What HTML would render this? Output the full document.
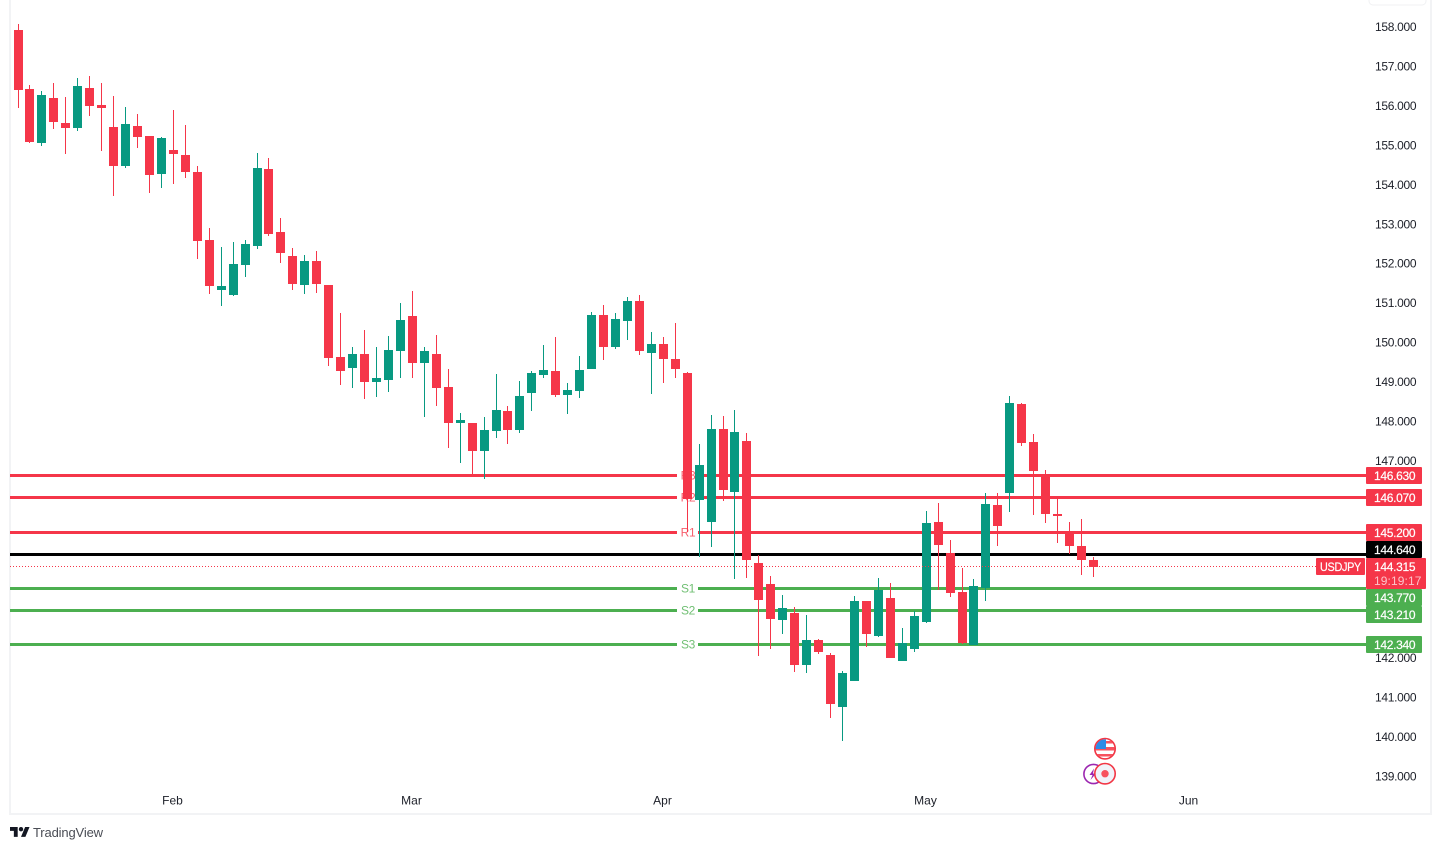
<!DOCTYPE html>
<html lang="en">
<head>
<meta charset="utf-8">
<title>USDJPY daily chart</title>
<style>
html,body{margin:0;padding:0;background:#fff;width:1441px;height:850px;overflow:hidden}
svg{display:block;font-family:"Liberation Sans",Arial,sans-serif}
text{font-size:12px;letter-spacing:-.3px}
</style>
</head>
<body>
<svg id="chart" xmlns="http://www.w3.org/2000/svg" width="1441" height="850" viewBox="0 0 1441 850">
  <rect x="0" y="0" width="1441" height="850" fill="#ffffff"/>
  <g fill="#f2f3f5" shape-rendering="crispEdges">
    <rect x="9" y="0" width="2" height="815"/>
    <rect x="1430" y="0" width="2" height="815"/>
    <rect x="9" y="813" width="1423" height="2"/>
  </g>
  <rect x="1369" y="-10" width="57" height="15" rx="4" fill="#fff" stroke="#f0f1f3"/>
  <g id="price-axis"></g>
  <g id="time-axis"></g>
  <g id="pivot-lines"></g>
  <g id="candles" shape-rendering="crispEdges"></g>
  <g id="pivot-line-labels"></g>
  <g id="last-price-line"></g>
  <g id="price-tags"></g>

  <g>
    <g>
      <circle cx="1093.5" cy="774" r="9.6" fill="#fff" stroke="#9c27b0" stroke-width="1.6"/>
      <path d="M1094 768.500 L1089.500 775 L1092.500 775 L1090.500 780 L1096 773.500 L1093 773.500 Z" fill="#9c27b0"/>
    </g>
    <g>
      <clipPath id="flag-clip"><circle cx="1105" cy="748.700" r="9.500"/></clipPath>
      <g clip-path="url(#flag-clip)">
        <rect x="1095" y="739" width="20" height="20" fill="#ffffff"/>
        <rect x="1095" y="741" width="20" height="2.500" fill="#f7525f"/>
        <rect x="1095" y="747" width="20" height="3.500" fill="#f7525f"/>
        <rect x="1095" y="754" width="20" height="2.500" fill="#f7525f"/>
        <rect x="1095" y="739" width="11" height="10" fill="#2e8be6"/>
      </g>
      <circle cx="1105" cy="748.700" r="10.200" fill="none" stroke="#f23645" stroke-width="1.600"/>
    </g>
    <g>
      <circle cx="1105" cy="773.700" r="10.200" fill="#f0f3fa" stroke="#f23645" stroke-width="1.600"/>
      <circle cx="1105" cy="773.700" r="3.700" fill="#f7525f"/>
    </g>
  </g>

  <g>
    <g transform="translate(10 824.800) scale(0.55)" fill="#131722">
      <path d="M14 22H7V11H0V4h14v18zM28 22h-8l7.500-18h8L28 22z"/>
      <circle cx="20" cy="8" r="4"/>
    </g>
    <text x="33" y="837" fill="#4a4d55" style="font-size:13px;letter-spacing:-.15px">TradingView</text>
  </g>
</svg>

<script>
// Daily OHLC values
const opens = [
157.91,156.42,155.05,156.19,155.55,155.43,156.44,156.01,155.45,154.46,
155.48,155.22,154.26,154.87,154.74,154.31,152.59,151.32,151.19,151.95,
152.44,154.39,152.79,152.18,151.45,152.06,151.45,149.62,149.34,149.70,
148.99,149.04,149.77,150.66,149.47,149.70,148.86,147.95,147.95,147.24,
147.75,148.25,147.77,148.71,149.17,149.27,148.66,148.76,149.32,150.69,
149.88,150.54,151.04,149.72,149.95,149.57,149.22,146.00,145.44,147.80,
146.20,147.49,144.40,143.87,142.96,143.13,141.81,142.45,142.07,140.75,
141.41,143.44,142.55,143.51,141.92,142.22,142.90,145.44,144.65,143.67,
142.32,143.77,145.87,146.17,148.43,147.47,146.66,145.64,145.21,144.83,144.48];
const highs = [
158.06,156.52,156.36,156.57,156.21,156.69,156.75,156.57,156.24,155.96,
155.78,155.22,155.20,155.88,155.50,154.46,152.89,152.41,152.54,152.59,
154.79,154.67,153.15,152.39,152.21,152.31,151.45,150.74,149.88,150.31,
149.88,150.15,150.99,151.30,149.88,150.18,149.32,148.20,147.95,148.10,
149.19,148.38,149.01,149.27,149.93,150.13,148.96,149.65,150.76,150.94,
150.74,151.14,151.19,150.26,150.13,150.48,149.24,147.42,148.15,148.13,
148.28,147.70,144.60,144.07,143.59,143.28,143.08,142.47,142.12,141.66,
143.56,143.44,144.02,143.89,142.75,143.18,145.72,145.92,144.98,144.27,
143.99,146.17,146.17,148.63,148.46,147.67,146.76,146.02,145.44,145.52,144.55];
const lows = [
155.93,155.05,154.97,155.40,154.77,155.35,155.73,154.84,153.70,154.41,
154.92,153.78,153.91,154.01,154.16,152.11,151.22,150.91,151.17,151.65,
152.36,152.69,152.00,151.32,151.22,151.24,149.39,148.91,148.84,148.56,
148.61,148.73,149.09,149.09,148.10,148.38,147.32,146.94,146.63,146.53,
147.57,147.42,147.70,148.25,149.09,148.61,148.18,148.58,149.32,149.55,
149.82,150.05,149.67,148.68,148.96,149.09,145.19,144.55,144.81,145.97,
143.99,144.02,142.04,142.22,142.60,141.64,141.61,142.09,140.47,139.89,
141.41,142.27,142.52,141.99,141.92,142.14,142.88,143.72,143.54,142.35,
142.32,143.44,144.83,145.69,147.37,145.62,145.41,144.91,144.63,144.10,144.05];
const closes = [
156.39,155.07,156.26,155.58,155.43,156.49,155.98,155.93,154.46,155.53,
155.20,154.24,155.17,154.77,154.31,152.56,151.42,151.42,151.98,152.49,
154.41,152.74,152.26,151.47,152.06,151.47,149.60,149.27,149.70,148.99,
149.09,149.80,150.56,149.47,149.77,148.84,147.95,148.03,147.24,147.77,
148.28,147.77,148.63,149.22,149.29,148.66,148.79,149.29,150.69,149.88,
150.59,151.04,149.77,149.95,149.57,149.32,146.02,146.88,147.80,146.25,
147.72,144.48,143.46,142.98,143.26,141.81,142.45,142.14,140.83,141.61,
143.44,142.60,143.72,141.99,142.37,143.06,145.41,144.86,143.64,142.37,
143.82,145.90,145.34,148.46,147.44,146.73,145.64,145.59,144.83,144.48,144.30];

const priceTickLabels = ['158.000','157.000','156.000','155.000','154.000','153.000','152.000','151.000','150.000','149.000','148.000','147.000','142.000','141.000','140.000','139.000'];
const monthLabels = ['Feb','Mar','Apr','May','Jun'];
const monthBarIndex = [13,33,54,76,98];

const pivotNames = ['R3','R2','R1','P','S1','S2','S3'];
const pivotLevels = [146.63,146.07,145.20,144.64,143.77,143.21,142.34];
const pivotPriceLabels = ['146.630','146.070','145.200','144.640','143.770','143.210','142.340'];

const symbolName = 'USDJPY';
const lastPrice = 144.315;
const lastPriceLabel = '144.315';
const countdownLabel = '19:19:17';

const RED = '#f53649', TEAL = '#089981', GREEN = '#4caf50', BLACK = '#000000';
const NS = 'http://www.w3.org/2000/svg';

function xScale(i) { return Math.floor(18.03 + i * 11.9494); }
function yScale(p) { return 26.5 + (158 - p) * 39.45; }
function make(tag, attrs, parent) {
  const el = document.createElementNS(NS, tag);
  for (const k in attrs) el.setAttribute(k, attrs[k]);
  parent.appendChild(el);
  return el;
}
function pivotColor(name) {
  if (name[0] === 'R') return RED;
  if (name[0] === 'S') return GREEN;
  return BLACK;
}

// price axis
const priceAxis = document.getElementById('price-axis');
priceTickLabels.forEach(function (label) {
  const t = make('text', {x: 1375, y: yScale(parseFloat(label)) + 4.5, fill: '#1c1f28'}, priceAxis);
  
  
  t.textContent = label;
});

// time axis
const timeAxis = document.getElementById('time-axis');
monthLabels.forEach(function (label, i) {
  const t = make('text', {x: xScale(monthBarIndex[i]) - 0.5, y: 804.5, fill: '#1c1f28', 'text-anchor': 'middle', style: 'letter-spacing:0'}, timeAxis);
  
  
  t.textContent = label;
});

// pivot lines (gap around the in-line label, except the black pivot)
const pivotGroup = document.getElementById('pivot-lines');
pivotNames.forEach(function (name, i) {
  const top = Math.round(yScale(pivotLevels[i]) - 0.9);
  const col = pivotColor(name);
  const spans = name === 'P' ? [[10, 1366]] : [[10, 677], [698, 1366]];
  spans.forEach(function (s) {
    const r = make('rect', {x: s[0], y: top, width: s[1] - s[0], height: 3, fill: col, 'shape-rendering': 'crispEdges'}, pivotGroup);
    
    
  });
});

// candles
const candleGroup = document.getElementById('candles');
opens.forEach(function (o, i) {
  const c = closes[i];
  const col = c >= o ? TEAL : RED;
  const cx = xScale(i);
  const g = make('g', {fill: col}, candleGroup);
  
  
  const hi = Math.round(yScale(highs[i]));
  const lo = Math.round(yScale(lows[i]));
  const wick = make('rect', {x: cx, y: hi, width: 1, height: Math.max(lo - hi, 1)}, g);
  
  
  const bt = Math.round(yScale(Math.max(o, c)));
  const bb = Math.round(yScale(Math.min(o, c)));
  const body = make('rect', {x: cx - 4, y: bt, width: 9, height: Math.max(bb - bt, 1)}, g);
  
  
});

// in-line pivot labels
const pivotLabelGroup = document.getElementById('pivot-line-labels');
pivotNames.forEach(function (name, i) {
  if (name === 'P') return;
  const t = make('text', {x: 688, y: Math.round(yScale(pivotLevels[i]) - 0.9) + 5.5, fill: pivotColor(name), 'fill-opacity': 0.8, 'text-anchor': 'middle'}, pivotLabelGroup);
  
  
  t.textContent = name;
});

// last price dotted line
const lastGroup = document.getElementById('last-price-line');
const lastY = Math.floor(yScale(lastPrice)) + 0.5;
const dotted = make('line', {x1: 10, x2: 1316, y1: lastY, y2: lastY, stroke: RED, 'stroke-width': 1, 'stroke-dasharray': '1 2'}, lastGroup);



// price tags with collision layout around the last price tag
const tagGroup = document.getElementById('price-tags');
const TAG_H = 17;
const lastTop = Math.round(yScale(lastPrice) - 7.9);
const lastBottom = lastTop + 31;
const tagTops = pivotLevels.map(function () { return 0; });
let limitUp = lastTop;
pivotLevels.forEach(function (v, k) {
  const i = pivotLevels.length - 1 - k;
  const level = pivotLevels[i];
  if (level > lastPrice) {
    let top = Math.round(yScale(level) - 7.9);
    if (top + TAG_H > limitUp) top = limitUp - TAG_H;
    tagTops[i] = top;
    limitUp = top;
  }
});
let limitDown = lastBottom;
pivotLevels.forEach(function (level, i) {
  if (level < lastPrice) {
    let top = Math.round(yScale(level) - 7.9);
    if (top < limitDown) top = limitDown;
    tagTops[i] = top;
    limitDown = top + TAG_H;
  }
});
pivotNames.forEach(function (name, i) {
  const r = make('rect', {x: 1366, y: tagTops[i], width: 56, height: TAG_H, rx: 1, fill: pivotColor(name)}, tagGroup);
  
  
  const t = make('text', {x: 1374, y: tagTops[i] + 13, fill: '#ffffff', stroke: '#ffffff', 'stroke-width': 0.2}, tagGroup);
  
  
  t.textContent = pivotPriceLabels[i];
});

// symbol + last price tag
const symbolBox = make('rect', {x: 1316, y: lastTop, width: 49, height: TAG_H, rx: 1, fill: RED}, tagGroup);


const symbolText = make('text', {x: 1320, y: lastTop + 13, fill: '#ffffff', stroke: '#ffffff', 'stroke-width': 0.2, textLength: 41, lengthAdjust: 'spacingAndGlyphs'}, tagGroup);


symbolText.textContent = symbolName;
const lastBox = make('rect', {x: 1366, y: lastTop, width: 60, height: 31, rx: 1, fill: RED}, tagGroup);


const lastText = make('text', {x: 1374, y: lastTop + 13, fill: '#ffffff', stroke: '#ffffff', 'stroke-width': 0.2}, tagGroup);


lastText.textContent = lastPriceLabel;
const countText = make('text', {x: 1374, y: lastTop + 27, fill: '#ffffff', 'fill-opacity': 0.7, style: 'letter-spacing:.1px'}, tagGroup);


countText.textContent = countdownLabel;
</script>
</body>
</html>
